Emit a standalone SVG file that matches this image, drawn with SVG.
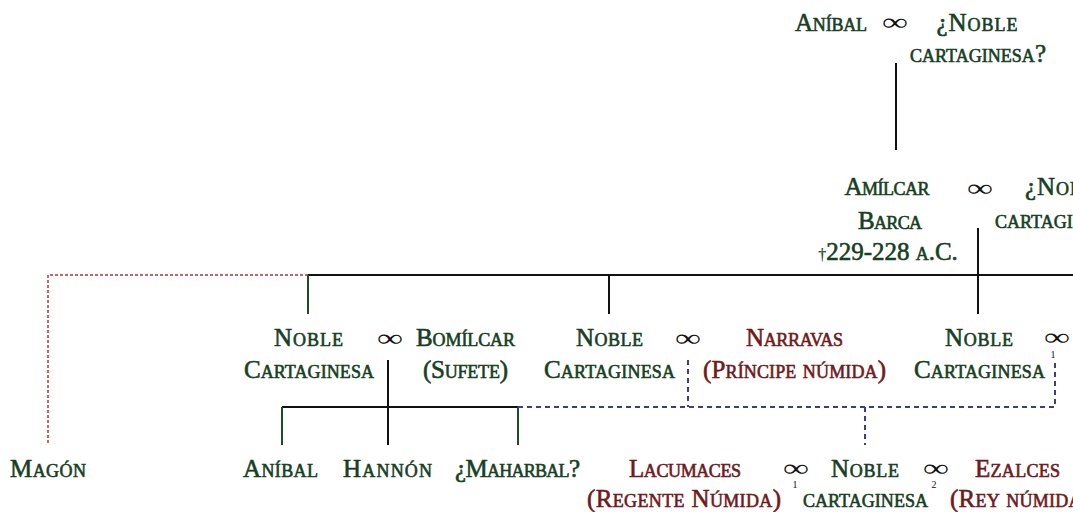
<svg xmlns="http://www.w3.org/2000/svg" width="1073" height="512" viewBox="0 0 1073 512">
<style>
text{font-family:"Liberation Serif","DejaVu Serif",serif;font-variant:small-caps;font-size:25px;text-anchor:middle}
.g{fill:#173f24;stroke:#173f24;stroke-width:0.6}
.r{fill:#701a1c;stroke:#701a1c;stroke-width:0.6}
.m{fill:#111;font-variant:normal;font-size:24px}
.s{fill:#111;font-variant:normal;font-size:10px}
.k{stroke:#111;stroke-width:2;fill:none}
.gl{stroke:#1c4a2b;stroke-width:2;fill:none}
.bd{stroke:#3b3d8a;stroke-width:2;stroke-dasharray:5 4;fill:none}
.rd{stroke:#b5302e;stroke-width:1.5;stroke-dasharray:3 2;fill:none}
</style>
<g id="connectors">
<path class="k" d="M896 63V150"/>
<path class="k" d="M308 275H1073M978 228V314M609 275V314"/>
<path class="gl" d="M308 275V314"/>
<path class="rd" d="M308 275H48V445"/>
<path class="k" d="M388 360V445M282 407H518"/>
<path class="gl" d="M282 407V445M518 407V445"/>
<path class="bd" d="M518 407H1055V360M688 360V407M865 407V445"/>
</g>
<g id="anibal_sr"><text class="g" x="831" y="31" textLength="72">Aníbal</text></g>
<g id="m_top"><text class="m" x="895" y="30" textLength="26" lengthAdjust="spacingAndGlyphs">∞</text></g>
<g id="noble_top"><text class="g" x="977" y="31" textLength="81">¿Noble</text><text class="g" x="978" y="62" textLength="136">cartaginesa?</text></g>
<g id="amilcar"><text class="g" x="887" y="195" textLength="85">Amílcar</text><text class="g" x="890" y="229" textLength="64">Barca</text><text class="g" x="888" y="260"><tspan style="font-size:16px;stroke-width:0.2">†</tspan>229-228 a.C.</text></g>
<g id="m_amilcar"><text class="m" x="980" y="196" textLength="26" lengthAdjust="spacingAndGlyphs">∞</text></g>
<g id="noble_amilcar"><text class="g" x="1025" y="195" style="text-anchor:start" textLength="81">¿Noble</text><text class="g" x="995" y="228" style="text-anchor:start" textLength="136">cartaginesa?</text></g>
<g id="noble1"><text class="g" x="308.5" y="346" textLength="69">Noble</text><text class="g" x="309" y="378" textLength="130">Cartaginesa</text></g>
<g id="m1"><text class="m" x="390" y="346" textLength="26" lengthAdjust="spacingAndGlyphs">∞</text></g>
<g id="bomilcar"><text class="g" x="465.5" y="346" textLength="99">Bomílcar</text><text class="g" x="465.5" y="378" textLength="85">(Sufete)</text></g>
<g id="noble2"><text class="g" x="609.5" y="346" textLength="67">Noble</text><text class="g" x="609.5" y="378" textLength="131">Cartaginesa</text></g>
<g id="m2"><text class="m" x="688" y="346" textLength="26" lengthAdjust="spacingAndGlyphs">∞</text></g>
<g id="narravas"><text class="r" x="794.5" y="346" textLength="97">Narravas</text><text class="r" x="794.5" y="378" textLength="183">(Príncipe númida)</text></g>
<g id="noble3"><text class="g" x="979" y="346" textLength="68">Noble</text><text class="g" x="979.5" y="378" textLength="131">Cartaginesa</text></g>
<g id="m3"><text class="m" x="1057" y="345" textLength="26" lengthAdjust="spacingAndGlyphs">∞</text><text class="s" x="1053" y="358">1</text></g>
<g id="magon"><text class="g" x="48" y="477" textLength="76">Magón</text></g>
<g id="anibal"><text class="g" x="280.5" y="477" textLength="75">Aníbal</text></g>
<g id="hannon"><text class="g" x="387.5" y="477" textLength="89">Hannón</text></g>
<g id="maharbal"><text class="g" x="517.5" y="477" textLength="125">¿Maharbal?</text></g>
<g id="lacumaces"><text class="r" x="685" y="477" textLength="112">Lacumaces</text><text class="r" x="684" y="507" textLength="194">(Regente Númida)</text></g>
<g id="m4"><text class="m" x="796" y="476" textLength="26" lengthAdjust="spacingAndGlyphs">∞</text><text class="s" x="795" y="488">1</text></g>
<g id="noble4"><text class="g" x="865" y="477" textLength="68">Noble</text><text class="g" x="865.5" y="507" textLength="125">cartaginesa</text></g>
<g id="m5"><text class="m" x="936" y="476" textLength="26" lengthAdjust="spacingAndGlyphs">∞</text><text class="s" x="934" y="488">2</text></g>
<g id="ezalces"><text class="r" x="1017.5" y="477" textLength="85">Ezalces</text><text class="r" x="950" y="507" style="text-anchor:start" textLength="140">(Rey númida)</text></g>
</svg>
